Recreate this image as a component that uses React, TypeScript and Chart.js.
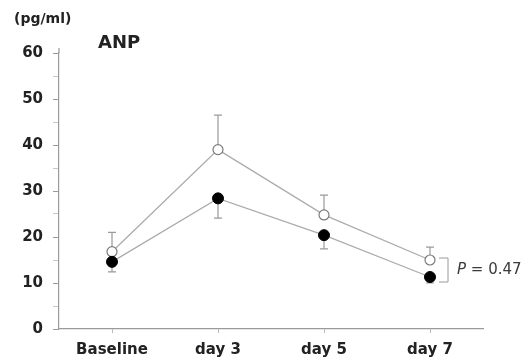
import React, { useEffect, useRef } from "react";
import { Chart, registerables } from "chart.js";

Chart.register(...registerables);

// Sampling days
const categories = ["Baseline", "day 3", "day 5", "day 7"];
// ANP (pg/ml), open-circle group: mean and upper SD
const openMean = [16.8, 39.0, 24.8, 15.0];
const openSD = [4.2, 7.5, 4.3, 2.8];
// ANP (pg/ml), filled-circle group: mean and lower SD
const filledMean = [14.6, 28.4, 20.4, 11.3];
const filledSD = [2.2, 4.3, 3.0, 1.3];
// Y axis range and step
const yMin = 0;
const yMax = 60;
const yStep = 5;
const yLabelStep = 10;
// Annotation texts
const unitText = "(pg/ml)";
const titleText = "ANP";
const pValueText = "0.47";

const FONT = "'DejaVu Sans', sans-serif";
const AXIS_GREY = "#9a9a9a";
const LINE_GREY = "#acacac";

// Error bars: open group upward, filled group downward
const errorBars = {
  id: "errorBars",
  beforeDatasetsDraw(chart: Chart) {
    const { ctx } = chart;
    const x = chart.scales.x;
    const y = chart.scales.y;
    const cap = 4;
    ctx.save();
    ctx.strokeStyle = AXIS_GREY;
    ctx.lineWidth = 1.2;
    const bar = (i: number, from: number, to: number) => {
      const px = x.getPixelForValue(i);
      const y0 = y.getPixelForValue(from);
      const y1 = y.getPixelForValue(to);
      ctx.beginPath();
      ctx.moveTo(px, y0);
      ctx.lineTo(px, y1);
      ctx.moveTo(px - cap, y1);
      ctx.lineTo(px + cap, y1);
      ctx.stroke();
    };
    categories.forEach((_, i) => {
      bar(i, openMean[i], openMean[i] + openSD[i]);
      bar(i, filledMean[i], filledMean[i] - filledSD[i]);
    });
    // the y axis line runs a little past its top tick
    ctx.beginPath();
    ctx.lineWidth = 1.2;
    ctx.moveTo(chart.chartArea.left, chart.chartArea.top);
    ctx.lineTo(chart.chartArea.left, chart.chartArea.top - 5);
    ctx.stroke();
    ctx.restore();
  },
};

// Unit label, panel title and the day-7 significance bracket
const annotations = {
  id: "annotations",
  afterDraw(chart: Chart) {
    const { ctx } = chart;
    const x = chart.scales.x;
    const y = chart.scales.y;
    ctx.save();
    ctx.fillStyle = "#222";
    ctx.textBaseline = "middle";
    ctx.textAlign = "left";
    ctx.font = `bold 14px ${FONT}`;
    ctx.fillText(unitText, 14, 19);
    ctx.font = `bold 18px ${FONT}`;
    ctx.fillText(titleText, 98, 43);

    const last = categories.length - 1;
    const px = x.getPixelForValue(last);
    const top = y.getPixelForValue(openMean[last]) - 2;
    const bottom = y.getPixelForValue(filledMean[last]) + 5;
    const bx0 = px + 9;
    const bx1 = px + 18;
    ctx.strokeStyle = AXIS_GREY;
    ctx.lineWidth = 1;
    ctx.beginPath();
    ctx.moveTo(bx0, top);
    ctx.lineTo(bx1, top);
    ctx.lineTo(bx1, bottom);
    ctx.lineTo(bx0, bottom);
    ctx.stroke();

    const ty = (top + bottom) / 2;
    let tx = bx1 + 9;
    ctx.fillStyle = "#3a3a3a";
    ctx.font = `italic 15px ${FONT}`;
    ctx.fillText("P", tx, ty);
    tx += ctx.measureText("P").width;
    ctx.font = `15px ${FONT}`;
    ctx.fillText(` = ${pValueText}`, tx, ty);
    ctx.restore();
  },
};

export default function App() {
  const ref = useRef<HTMLCanvasElement | null>(null);

  useEffect(() => {
    if (!ref.current) return;
    const chart = new Chart(ref.current, {
      type: "line",
      data: {
        labels: categories,
        datasets: [
          {
            label: "open",
            data: openMean,
            borderColor: LINE_GREY,
            borderWidth: 1.3,
            pointStyle: "circle",
            pointRadius: 5,
            pointBackgroundColor: "#ffffff",
            pointBorderColor: "#7a7a7a",
            pointBorderWidth: 1.2,
            tension: 0,
            order: 2,
          },
          {
            label: "filled",
            data: filledMean,
            borderColor: LINE_GREY,
            borderWidth: 1.3,
            pointStyle: "circle",
            pointRadius: 5.5,
            pointBackgroundColor: "#000",
            pointBorderColor: "#000",
            pointBorderWidth: 1,
            tension: 0,
            order: 1,
          },
        ],
      },
      options: {
        animation: false,
        responsive: true,
        maintainAspectRatio: false,
        layout: { padding: { top: 53, right: 39, bottom: 0, left: 0 } },
        plugins: {
          legend: { display: false },
          tooltip: { enabled: false },
          title: { display: false },
        },
        scales: {
          x: {
            type: "category",
            offset: true,
            grid: {
              display: true,
              offset: false,
              drawOnChartArea: false,
              tickLength: 4,
              color: "#bbb",
            },
            border: { display: true, color: AXIS_GREY, width: 1.2 },
            ticks: {
              color: "#222",
              font: { family: FONT, size: 15, weight: "bold" },
              padding: 8,
              maxRotation: 0,
            },
            afterFit(scale: any) {
              scale.height = 31;
            },
          },
          y: {
            min: yMin,
            max: yMax,
            grid: {
              display: true,
              drawOnChartArea: false,
              tickLength: 6,
              color: (c: any) => (c.tick && c.tick.value % yLabelStep === 0 ? AXIS_GREY : "#c8c8c8"),
            },
            border: { display: true, color: AXIS_GREY, width: 1.2 },
            ticks: {
              stepSize: yStep,
              color: "#222",
              padding: 10,
              font: { family: FONT, size: 15, weight: "bold" },
              callback: (v: any) => (Number(v) % yLabelStep === 0 ? String(v) : ""),
            },
            afterFit(scale: any) {
              scale.width = 59;
            },
          },
        },
      },
      plugins: [errorBars, annotations],
    });
    return () => chart.destroy();
  }, []);

  return (
    <div style={{ position: "absolute", left: 0, top: 0, width: 522, height: 360, background: "#fff" }}>
      <canvas ref={ref} />
    </div>
  );
}
